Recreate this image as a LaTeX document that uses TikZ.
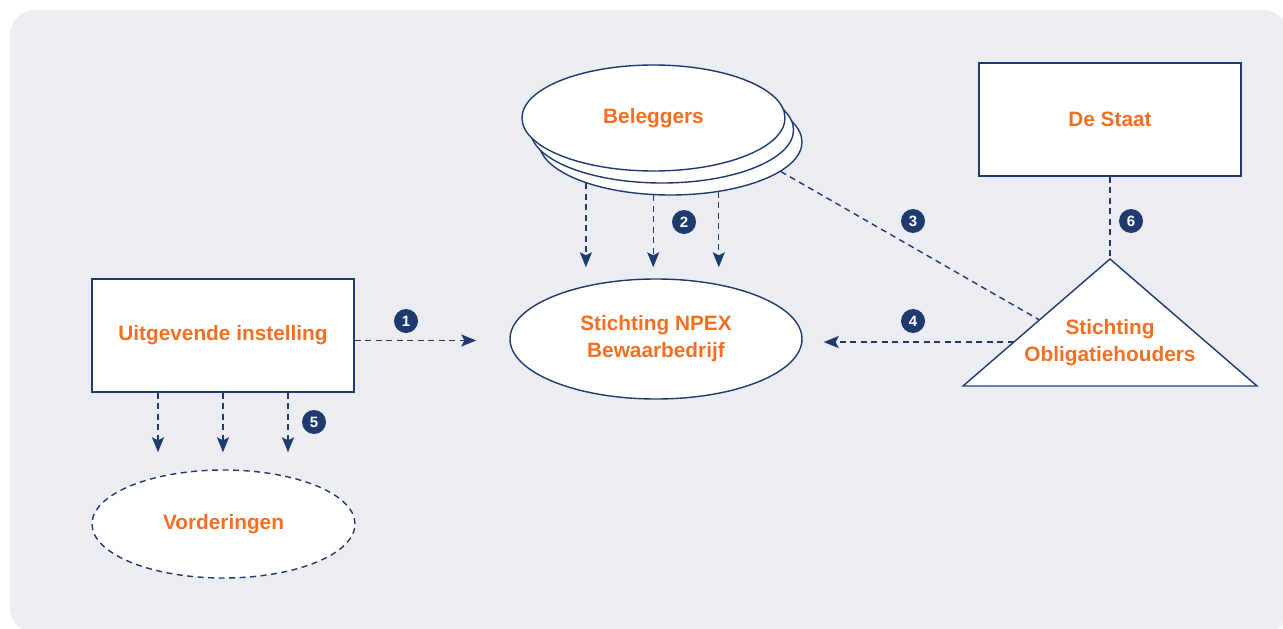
\documentclass[tikz,border=0pt]{standalone}
\usepackage{fontspec}
\setmainfont{Liberation Sans}
\usetikzlibrary{shapes.geometric,arrows.meta,calc}
\definecolor{navy}{HTML}{1F3A6F}
\definecolor{npexorange}{HTML}{F36F21}
\definecolor{panel}{HTML}{ECEDF3}
\tikzset{
  title/.style={text=npexorange,align=center,font=\bfseries\fontsize{20.8}{27}\selectfont},
  box/.style={title,draw=navy,line width=1.4pt,fill=white,inner sep=0pt,
    minimum width=262pt,minimum height=113pt},
  oval/.style={title,ellipse,draw=navy,line width=1.4pt,fill=white,inner sep=0pt},
  link/.style={navy,line width=1.4pt,dash pattern=on 6pt off 4.5pt},
  flow/.style={link,-{Stealth[length=15pt,width=12pt,inset=3pt]}},
  badge/.style={circle,fill=navy,text=white,minimum size=24pt,inner sep=0pt,
    font=\bfseries\fontsize{15}{15}\selectfont}
}
\begin{document}
\begin{tikzpicture}[x=1pt,y=-1pt]
  %% Panel
  \useasboundingbox (0,0) rectangle (1283,629);
  \fill[panel,rounded corners=25pt] (10,10) rectangle (1288,633);
  %% Parties
  \node[box] (uit) at (223,335.5) {Uitgevende instelling};
  \node[oval,dash pattern=on 6pt off 4.5pt,minimum width=263pt,minimum height=108pt] (vord) at (223.5,524) {Vorderingen};
  \node[oval,minimum width=292pt,minimum height=120pt] (npex) at (656,339) {Stichting NPEX\\Bewaarbedrijf};
  \node[oval,minimum width=263pt,minimum height=106pt] (bel3) at (670.5,142) {};
  \node[oval,minimum width=263pt,minimum height=106pt] (bel2) at (662,130) {};
  \node[oval,minimum width=263pt,minimum height=106pt] (bel1) at (653.5,118) {Beleggers};
  \node[box] (staat) at (1110,119.5) {De Staat};
  %% Triangle
  \coordinate (apex) at (1110,259);
  \coordinate (bl) at (963,386);
  \coordinate (br) at (1257,386);
  \draw[navy,line width=1.4pt,fill=white] (apex) -- (bl) -- (br) -- cycle;
  \node[title] (soh) at (1110,343) {Stichting\\Obligatiehouders};
  %% Connectors
  \draw[flow,shorten >=33pt] ([yshift=-5pt]uit.east) -- ([yshift=-5pt]uit.east -| npex.west);
  \foreach \dx in {-65,0,65}
    \draw[flow,shorten >=17pt] ([xshift=\dx pt]uit.south) -- ([xshift=\dx pt]uit.south |- vord.north);
  \foreach \a in {206,252,314}
    \draw[flow,shorten >=11pt] (bel3.\a) -- (bel3.\a |- npex.north);
  \draw[link] (bel3.345) -- ($(apex)!0.48!(bl)$);
  \coordinate (p4) at ($(apex)!0.654!(bl)$);
  \draw[flow,shorten >=21pt] (p4) -- (p4 -| npex.east);
  \draw[link] (staat.south) -- (apex);
  %% Badges
  \node[badge] (n1) at (406,321) {1};
  \node[badge] (n2) at (684,222) {2};
  \node[badge] (n3) at (913,221) {3};
  \node[badge] (n4) at (913,321) {4};
  \node[badge] (n5) at (314,422) {5};
  \node[badge] (n6) at (1131,221) {6};
\end{tikzpicture}
\end{document}
